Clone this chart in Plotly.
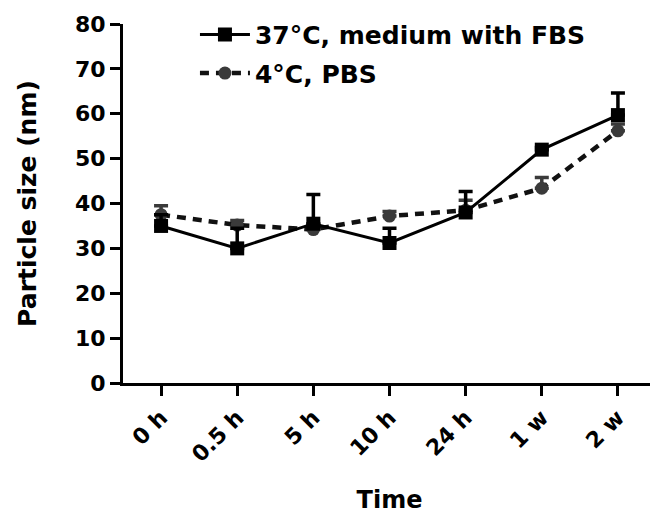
import plotly.graph_objects as go

times = ["0 h", "0.5 h", "5 h", "10 h", "24 h", "1 w", "2 w"]
fbs_37 = [35.0, 30.0, 35.5, 31.2, 38.0, 52.0, 59.7]
fbs_37_err = [2.5, 4.5, 6.5, 3.3, 4.7, 0.5, 4.9]
pbs_4 = [37.5, 35.2, 34.2, 37.2, 38.5, 43.4, 56.2]
pbs_4_err = [2.0, 1.0, 1.0, 1.0, 2.2, 2.4, 1.5]

font_fam = "DejaVu Sans"
fig = go.Figure()

fig.add_trace(go.Scatter(
    x=times, y=pbs_4, name="4°C, PBS", mode="lines+markers",
    legendgroup="b", legendrank=2,
    line=dict(color="#111111", width=4.5, dash="9px,7px"),
    marker=dict(symbol="circle", size=13, color="#3a3a3a"),
    error_y=dict(type="data", array=pbs_4_err, arrayminus=[0] * len(pbs_4_err),
                 symmetric=False, thickness=3.5, width=7, color="#3a3a3a"),
))
fig.add_trace(go.Scatter(
    x=times, y=fbs_37, name="37°C, medium with FBS", mode="lines+markers",
    legendgroup="a", legendrank=1,
    line=dict(color="#000000", width=3),
    marker=dict(symbol="square", size=14, color="#000000"),
    error_y=dict(type="data", array=fbs_37_err, arrayminus=[0] * len(fbs_37_err),
                 symmetric=False, thickness=3.5, width=7, color="#000000"),
))

fig.update_layout(
    width=650, height=506,
    margin=dict(l=115, r=2, t=16, b=131, autoexpand=False),
    plot_bgcolor="white", paper_bgcolor="white",
    font=dict(family=font_fam, size=22, color="black", weight="bold"),
    legend=dict(x=0.135, y=1.034, xanchor="left", yanchor="top",
                font=dict(size=25, family=font_fam, weight="bold"),
                bgcolor="rgba(0,0,0,0)", tracegroupgap=3, itemwidth=50),
    xaxis=dict(
        type="category", range=[-0.5, 6.5],
        showline=True, linecolor="black", linewidth=3, mirror=False,
        ticks="outside", ticklen=10, tickwidth=3, tickcolor="black",
        tickangle=-45, showgrid=False, zeroline=False,
        tickfont=dict(size=22, family=font_fam, weight="bold"),
        title=dict(text="Time", standoff=28,
                   font=dict(size=24, family=font_fam, weight="bold")),
    ),
    yaxis=dict(
        range=[0, 80], tickvals=[0, 10, 20, 30, 40, 50, 60, 70, 80],
        showline=True, linecolor="black", linewidth=3,
        ticks="outside", ticklen=10, tickwidth=3, tickcolor="black",
        showgrid=False, zeroline=False,
        tickfont=dict(size=22, family=font_fam, weight="bold"),
        title=dict(text="Particle size (nm)", standoff=32,
                   font=dict(size=25, family=font_fam, weight="bold")),
    ),
)

fig.write_html("out.html")
